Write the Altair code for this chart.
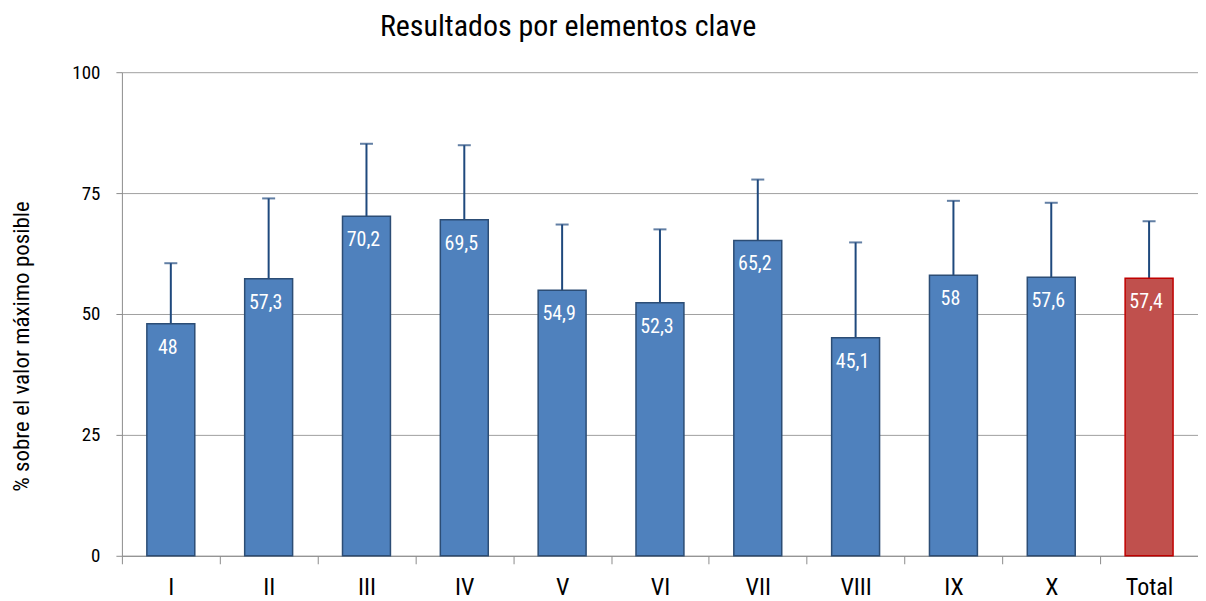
import altair as alt
import pandas as pd

categories = ["I", "II", "III", "IV", "V", "VI", "VII", "VIII", "IX", "X", "Total"]
values = [48, 57.3, 70.2, 69.5, 54.9, 52.3, 65.2, 45.1, 58, 57.6, 57.4]
err_top = [60.5, 73.9, 85.2, 84.9, 68.5, 67.5, 77.8, 64.8, 73.4, 73.0, 69.2]
groups = ["el"] * 10 + ["total"]

df = pd.DataFrame({
    "cat": categories,
    "val": values,
    "top": err_top,
    "grp": groups,
    "lbl": [(f"{v:g}").replace(".", ",") for v in values],
})

FONT = "Roboto Condensed, Open Sans Condensed, Noto Sans Condensed, DejaVu Sans Condensed, Liberation Sans Narrow, Roboto"
W, H = 1077, 484
step = W / len(categories)

x = alt.X(
    "cat:N", sort=categories, title=None,
    scale=alt.Scale(paddingInner=0.51, paddingOuter=0.255),
    axis=alt.Axis(
        labelAngle=0, labelFontSize=24, labelColor="#000000", labelFont=FONT,
        labelPadding=12, labelOffset=step / 2, tickSize=8, tickColor="#8c8c8c",
        tickOffset=-step / 2, tickWidth=1,
        domainColor="#8c8c8c", domainWidth=1, grid=False,
    ),
)

y = alt.Y(
    "val:Q", title="% sobre el valor máximo posible",
    scale=alt.Scale(domain=[0, 100], nice=False),
    axis=alt.Axis(
        values=[0, 25, 50, 75, 100], labelFontSize=19, labelFont=FONT,
        labelColor="#000000", labelPadding=16, tickSize=6, tickColor="#8c8c8c",
        domainColor="#8c8c8c", gridColor="#a0a0a0", gridWidth=1,
        titleFont=FONT, titleFontSize=23, titleFontWeight="normal", titleColor="#000000",
        titleAngle=-90, titleX=-100, titleY=274, titleAlign="center", titleBaseline="middle",
    ),
)

color = alt.Color("grp:N", scale=alt.Scale(domain=["el", "total"], range=["#4f81bd", "#c0504d"]), legend=None)
stroke = alt.Stroke("grp:N", scale=alt.Scale(domain=["el", "total"], range=["#2c4d75", "#c00000"]), legend=None)

base = alt.Chart(df)

err = base.mark_rule(color="#1f497d", strokeWidth=2).encode(
    x=x, y=alt.Y("val:Q"), y2="top:Q"
)
cap = base.mark_tick(color="#1f497d", thickness=2, size=13, orient="horizontal").encode(
    x=x, y=alt.Y("top:Q")
)
bars = base.mark_bar(strokeWidth=1.5).encode(x=x, y=y, color=color, stroke=stroke)
labels = base.mark_text(
    color="white", fontSize=20, font=FONT, baseline="middle",
    align="center", dy=24, dx=-3
).encode(x=x, y=alt.Y("val:Q"), text="lbl:N")

chart = alt.layer(err, cap, bars, labels).properties(
    width=W, height=H,
    padding={"left": 3, "top": 4, "right": 0, "bottom": 0},
    title=alt.TitleParams(
        "Resultados por elementos clave", font=FONT, fontSize=30, fontWeight="normal",
        color="#000000", anchor="middle", dx=-92, offset=21,
    ),
).configure_view(stroke=None)

chart.save("out.html", embed_options={"renderer": "svg", "actions": False})
